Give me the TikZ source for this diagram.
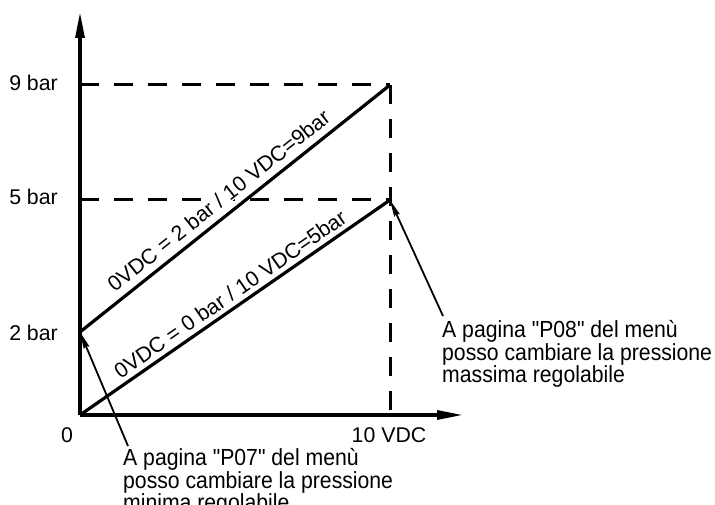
\documentclass[tikz,border=0pt]{standalone}
\usepackage{fontspec}
\setmainfont{Liberation Sans}[Ligatures=TeXOff]
\newfontfamily\notefont{Liberation Sans}[Ligatures=TeXOff,FakeStretch=0.91]
\usetikzlibrary{arrows.meta}
\begin{document}
\begin{tikzpicture}[x=1pt,y=-1pt,
  axisline/.style={line width=3.2pt,-{Stealth[length=26pt,width=9pt,inset=0pt]}},
  graphline/.style={line width=3.2pt},
  guide/.style={line width=3pt,dash pattern=on 19pt off 15pt},
  note/.style={line width=1.8pt,-{Stealth[length=17pt,width=6pt,inset=2pt]}},
  lbl/.style={font=\fontsize{21.3}{17}\selectfont,inner sep=0pt},
  notetext/.style={font=\notefont\fontsize{23.3}{17.5}\selectfont,inner sep=0pt,align=left,anchor=north west},
]
\useasboundingbox (0,0) rectangle (715,505);
% key points
\coordinate (O) at (80,415);
\coordinate (Ytop) at (80,12);
\coordinate (Xend) at (463,415);
\coordinate (Y9) at (80,85);
\coordinate (Y5) at (80,200);
\coordinate (Y2) at (80,332);
\coordinate (P9) at (390,85);
\coordinate (P5) at (390,200);
\coordinate (X10) at (390,415);
% dashed guides
\draw[guide] (Y9) -- (P9);
\draw[guide] (Y5) -- (P5);
\draw[guide] (P9) -- (X10);
% axes
\draw[axisline] (O) -- (Ytop);
\draw[axisline] (O) -- (Xend);
% graph lines
\draw[graphline] (Y2) -- node[lbl,sloped,above=6pt,pos=0.48,fill=white,inner sep=1pt] (t9) {0VDC = 2 bar / 10 VDC=9bar} (P9);
\draw[graphline] (O) -- node[lbl,sloped,above=4.5pt,pos=0.51] (t5) {0VDC = 0 bar / 10 VDC=5bar} (P5);
% axis labels
\node[lbl,anchor=east] (l9) at (58,83) {9 bar};
\node[lbl,anchor=east] (l5) at (58,197) {5 bar};
\node[lbl,anchor=east] (l2) at (58,333) {2 bar};
\node[lbl] (l0) at (67,435) {0};
\node[lbl] (l10) at (389,435) {10 VDC};
% notes
\node[notetext] (n7) at (123,448) {A pagina "P07" del menù\\posso cambiare la pressione\\minima regolabile};
\node[notetext] (n8) at (442,320) {A pagina "P08" del menù\\posso cambiare la pressione\\massima regolabile};
\coordinate (n7t) at (128,446);
\coordinate (n8t) at (443,316);
\draw[note] (n7t) -- (Y2);
\draw[note] (n8t) -- (P5);
\end{tikzpicture}
\end{document}
